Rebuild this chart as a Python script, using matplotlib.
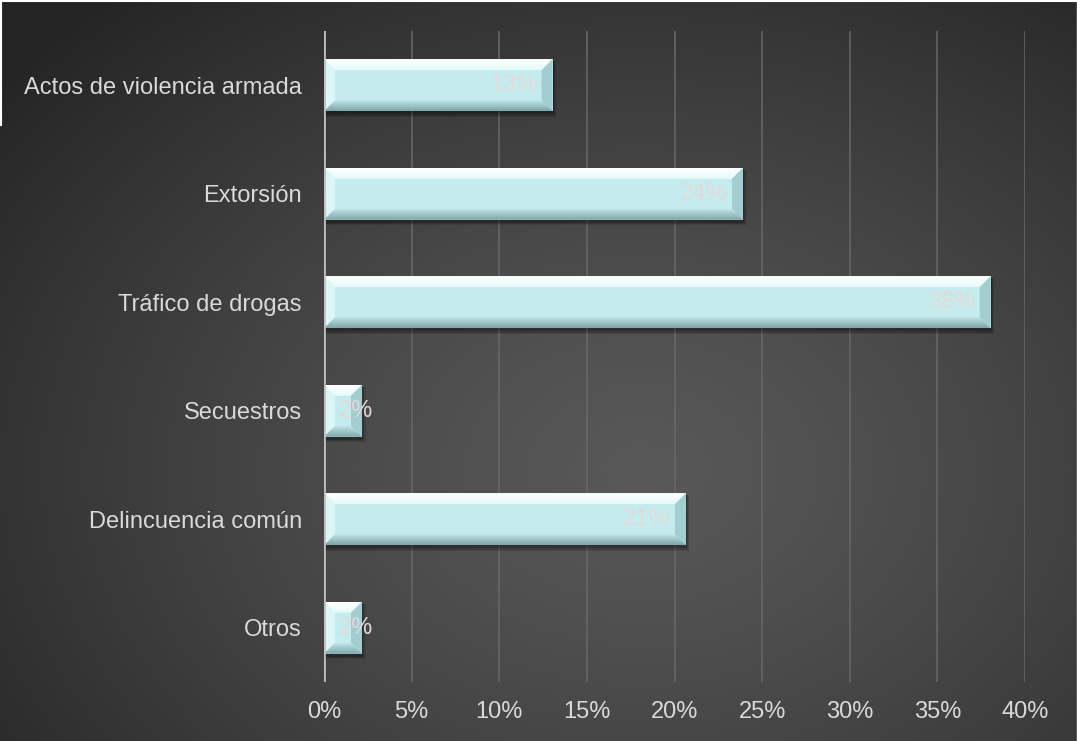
import matplotlib.pyplot as plt
import numpy as np
from matplotlib.patches import Polygon, Rectangle

plt.rcParams['font.family'] = ['Liberation Sans', 'DejaVu Sans']

# data
categories = ['Actos de violencia armada', 'Extorsión', 'Tráfico de drogas',
              'Secuestros', 'Delincuencia común', 'Otros']
values = [13.04, 23.91, 38.04, 2.17, 20.65, 2.17]
labels = ['13%', '24%', '38%', '2%', '21%', '2%']
xticks = [0, 5, 10, 15, 20, 25, 30, 35, 40]

W, H, DPI = 1077, 741, 100
fig = plt.figure(figsize=(W / DPI, H / DPI), dpi=DPI)

# background radial gradient
bg = fig.add_axes([0, 0, 1, 1], zorder=-10)
yy, xx = np.mgrid[0:H, 0:W]
r = np.sqrt(((xx - 640) / 820.0) ** 2 + ((yy - 470) / 620.0) ** 2)
r = np.clip(r, 0, 1)
g = 0.345 - 0.2 * r ** 1.3
bg.imshow(np.dstack([g, g, g]), extent=[0, W, H, 0], aspect='auto', interpolation='bilinear')
bg.plot([0, W], [1, 1], color='white', lw=1.5)
bg.plot([1, 1], [0, 125], color='white', lw=1.5)
bg.plot([W - 0.5, W - 0.5], [0, H], color='white', lw=1)
bg.set_xlim(0, W)
bg.set_ylim(H, 0)
bg.axis('off')

# main axes
left, right, top, bottom = 324, 1025, 31, 682
ax = fig.add_axes([left / W, 1 - bottom / H, (right - left) / W, (bottom - top) / H])
ax.set_facecolor('none')
ax.set_xlim(0, 40)
ax.set_ylim(5.5, -0.5)

dxp = 40.0 / (right - left)   # data per pixel, x
dyp = 6.0 / (bottom - top)    # data per pixel, y

for s in ax.spines.values():
    s.set_visible(False)
for t in xticks[1:]:
    ax.axvline(t, color='#686868', lw=1.1, zorder=0)
ax.axvline(0, color='#bfbfbf', lw=2, zorder=5)

ax.set_xticks(xticks)
ax.set_xticklabels([f'{t}%' for t in xticks])
ax.set_yticks(range(len(categories)))
ax.set_yticklabels(categories)
ax.tick_params(length=0, colors='#d9d9d9', labelsize=17)
ax.tick_params(axis='y', pad=16)
ax.tick_params(axis='x', pad=14)

bh = 0.48
b = 11  # bevel in px
for i, v in enumerate(values):
    y0 = i - bh / 2
    y1 = i + bh / 2
    bx = b * dxp
    by = b * dyp
    # shadow
    for k, a in zip([6, 4, 2], [0.12, 0.15, 0.2]):
        ax.add_patch(Rectangle((0, y0 + 2 * dyp), v + k * dxp * 0.6, bh + k * dyp * 0.6,
                               facecolor='black', edgecolor='none', alpha=a, zorder=2))
    ax.barh(i, v, height=bh, color='#c4ecef', edgecolor='none', zorder=3)
    # bevels
    top_p = Polygon([(0, y0), (v, y0), (v - bx, y0 + by), (bx, y0 + by)],
                    closed=True, facecolor='none', edgecolor='none', zorder=4)
    ax.add_patch(top_p)
    grad = np.linspace(1.0, 0.0, 20).reshape(-1, 1)
    cols = np.zeros((20, 1, 3))
    c_a = np.array([1.0, 1.0, 1.0])
    c_b = np.array([0.90, 0.98, 0.98])
    cols[:, 0, :] = grad * c_a + (1 - grad) * c_b
    im = ax.imshow(cols, extent=[0, v, y0 + by, y0], aspect='auto', zorder=4,
                   interpolation='bilinear')
    im.set_clip_path(top_p)
    ax.add_patch(Polygon([(0, y0), (bx, y0 + by), (bx, y1 - by), (0, y1)],
                         closed=True, facecolor='#dcf5f6', edgecolor='none', zorder=4))
    ax.add_patch(Polygon([(v, y0), (v, y1), (v - bx, y1 - by), (v - bx, y0 + by)],
                         closed=True, facecolor='#a3cdd0', edgecolor='none', zorder=4))
    bot_p = Polygon([(0, y1), (v, y1), (v - bx, y1 - by), (bx, y1 - by)],
                    closed=True, facecolor='none', edgecolor='none', zorder=4)
    ax.add_patch(bot_p)
    c_a = np.array([0.74, 0.90, 0.91])
    c_b = np.array([0.50, 0.65, 0.66])
    cols = np.zeros((20, 1, 3))
    grad2 = np.linspace(0.0, 1.0, 20).reshape(-1, 1)
    cols[:, 0, :] = (1 - grad2) * c_a + grad2 * c_b
    im2 = ax.imshow(cols, extent=[0, v, y1, y1 - by], aspect='auto', zorder=4,
                    interpolation='bilinear')
    im2.set_clip_path(bot_p)

    # value label
    if v < 5:
        ax.annotate(labels[i], (0, i), xytext=(11, 0), textcoords='offset points',
                    ha='left', va='center', fontsize=17, color='#e3d9d9', zorder=6)
    else:
        ax.annotate(labels[i], (v, i), xytext=(-11, 0), textcoords='offset points',
                    ha='right', va='center', fontsize=17, color='#e3d9d9', zorder=6)

ax.set_xlim(0, 40)
ax.set_ylim(5.5, -0.5)

fig.savefig('out.png', dpi=DPI)
